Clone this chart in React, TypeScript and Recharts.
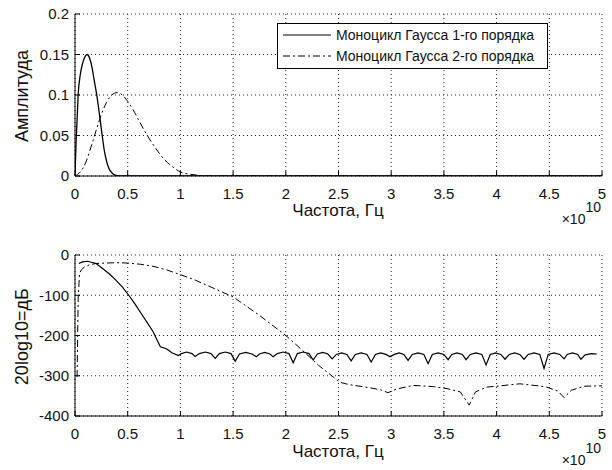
import { LineChart, Line, XAxis, YAxis, CartesianGrid, Legend } from 'recharts';

const FONT = '"Liberation Sans", Arial, sans-serif';
const INK = '#111';

const freqTicks = [0, 0.5, 1, 1.5, 2, 2.5, 3, 3.5, 4, 4.5, 5];
const ampTicks = [0, 0.05, 0.1, 0.15, 0.2];
const dbTicks = [-400, -300, -200, -100, 0];

const seriesNames = ['Моноцикл Гаусса 1-го порядка', 'Моноцикл Гаусса 2-го порядка'];

// amplitude spectrum, frequency in units of 1e10 Hz
const amp1Freq = [0, 0.01, 0.02, 0.03, 0.05, 0.07, 0.09, 0.115, 0.14, 0.16, 0.18, 0.2, 0.22, 0.24, 0.26, 0.28, 0.3, 0.32, 0.35, 0.38, 0.42, 5];
const amp1Val = [0, 0.04, 0.07, 0.1, 0.125, 0.138, 0.146, 0.15, 0.145, 0.135, 0.12, 0.105, 0.088, 0.068, 0.048, 0.03, 0.018, 0.01, 0.004, 0.001, 0, 0];

const amp2Freq = [0, 0.05, 0.1, 0.15, 0.2, 0.25, 0.3, 0.35, 0.4, 0.45, 0.5, 0.55, 0.6, 0.65, 0.7, 0.75, 0.8, 0.85, 0.9, 0.95, 1, 1.1, 1.2, 1.3, 5];
const amp2Val = [0, 0.005, 0.016, 0.035, 0.056, 0.076, 0.091, 0.1, 0.103, 0.1, 0.092, 0.082, 0.07, 0.058, 0.047, 0.037, 0.028, 0.02, 0.014, 0.009, 0.005, 0.002, 0.0005, 0, 0];

// spectrum in dB
const db1Freq = [
  0.036, 0.07, 0.12, 0.2, 0.265, 0.33, 0.39, 0.45, 0.51, 0.57, 0.63, 0.69, 0.74, 0.78, 0.81, 0.867, 0.92, 0.98,
  1.01, 1.06, 1.11, 1.14, 1.18, 1.235, 1.29, 1.33, 1.37, 1.425, 1.48, 1.52, 1.56, 1.62, 1.68, 1.72,
  1.75, 1.8, 1.85, 1.88, 1.92, 1.975, 2.03, 2.07, 2.11, 2.165, 2.22, 2.26, 2.3, 2.35, 2.4, 2.44,
  2.48, 2.53, 2.58, 2.62, 2.66, 2.715, 2.77, 2.81, 2.85, 2.9, 2.95, 2.99, 3.03, 3.075, 3.12, 3.16,
  3.2, 3.255, 3.31, 3.35, 3.39, 3.445, 3.5, 3.54, 3.575, 3.625, 3.675, 3.71, 3.75, 3.805, 3.86, 3.9,
  3.94, 3.99, 4.04, 4.08, 4.12, 4.17, 4.22, 4.26, 4.3, 4.355, 4.41, 4.45, 4.49, 4.545, 4.6, 4.64,
  4.67, 4.72, 4.77, 4.8, 4.84, 4.9, 4.95,
];
const db1Val = [
  -21, -17, -15.5, -21, -34, -48, -63, -80, -100, -122, -146, -170, -190, -212, -228, -233, -243, -250,
  -245, -241, -245, -252, -245, -241, -245, -257, -245, -241, -245, -264, -246, -242, -246, -253,
  -246, -242, -246, -253, -245, -241, -245, -268, -245, -241, -245, -261, -246, -242, -246, -258,
  -247, -243, -247, -263, -247, -243, -247, -266, -247, -243, -247, -253, -247, -243, -247, -262,
  -247, -243, -247, -270, -247, -243, -247, -260, -247, -243, -247, -260, -247, -243, -247, -273,
  -247, -243, -247, -259, -247, -243, -247, -259, -247, -243, -247, -282, -247, -243, -247, -258,
  -247, -243, -247, -259, -248, -245, -246,
];

const db2Freq = [
  0.02, 0.025, 0.03, 0.043, 0.06, 0.09, 0.14, 0.2, 0.39, 0.5, 0.62, 0.74, 0.87, 0.99, 1.12, 1.25, 1.5, 1.75,
  2, 2.15, 2.31, 2.45, 2.51, 2.6, 2.8, 2.9, 2.97, 3.05, 3.21, 3.4, 3.53, 3.655, 3.74, 3.8, 3.91, 4,
  4.22, 4.46, 4.58, 4.64, 4.71, 4.83, 5,
];
const db2Val = [
  -303, -200, -110, -46, -37, -30, -24, -21, -19, -20, -23, -28, -37, -48, -60, -75, -104, -150,
  -200, -235, -274, -303, -316, -322, -330, -335, -342, -333, -324, -327, -332, -340, -373, -340, -328, -326,
  -320, -327, -338, -354, -336, -326, -325,
];

const toPoints = (xs: number[], ys: number[]) => xs.map((f, i) => ({ f, v: ys[i] }));

const amp1 = toPoints(amp1Freq, amp1Val);
const amp2 = toPoints(amp2Freq, amp2Val);
const db1 = toPoints(db1Freq, db1Val);
const db2 = toPoints(db2Freq, db2Val);

const tickStyle = { fontSize: 15, fill: INK, fontFamily: FONT };

const XTitle = ({ base }: { base: number }) => (
  <g fontFamily={FONT} fill={INK}>
    <text x={338} y={base} textAnchor="middle" fontSize={17}>
      Частота, Гц
    </text>
    <text x={601} y={base + 8} textAnchor="end" fontSize={14}>
      ×10
      <tspan dy={-12}>10</tspan>
    </text>
  </g>
);

const YTitle = ({ text, cy }: { text: string; cy: number }) => (
  <text
    x={28}
    y={cy}
    transform={`rotate(-90, 28, ${cy})`}
    textAnchor="middle"
    fontSize={18}
    fontFamily={FONT}
    fill={INK}
  >
    {text}
  </text>
);

const LegendBox = () => (
  <svg width={271} height={46} style={{ display: 'block' }}>
    <rect x={0.5} y={0.5} width={270} height={45} fill="#fff" stroke="#000" />
    <line x1={6} x2={54} y1={12} y2={12} stroke="#000" strokeWidth={1.2} />
    <line x1={6} x2={54} y1={33} y2={33} stroke="#000" strokeDasharray="7 3 2 3" />
    <text x={59} y={17} fontSize={14} fontFamily={FONT} fill={INK}>{seriesNames[0]}</text>
    <text x={59} y={38} fontSize={14} fontFamily={FONT} fill={INK}>{seriesNames[1]}</text>
  </svg>
);

const App = () => {
  return (
    <div style={{ position: 'absolute', left: 0, top: 0, width: 612, height: 470, background: '#fff' }}>
      <LineChart width={612} height={240} margin={{ top: 14, right: 10, bottom: 0, left: 0 }}>
        <CartesianGrid stroke="#222" strokeDasharray="1 3" />
        <XAxis
          type="number"
          dataKey="f"
          domain={[0, 5]}
          ticks={freqTicks}
          interval={0}
          allowDataOverflow
          height={64}
          stroke="#000"
          tickSize={-5}
          tickMargin={17}
          tick={tickStyle}
          label={<XTitle base={216} />}
        />
        <XAxis xAxisId="top" orientation="top" type="number" domain={[0, 5]} ticks={freqTicks} height={0} stroke="#000" tickSize={-5} tick={false} allowDataOverflow />
        <YAxis
          type="number"
          domain={[0, 0.2]}
          ticks={ampTicks}
          interval={0}
          allowDataOverflow
          width={75}
          stroke="#000"
          tickSize={-5}
          tickMargin={11}
          tick={tickStyle}
          label={<YTitle text="Амплитуда" cy={96} />}
        />
        <YAxis yAxisId="right" orientation="right" type="number" domain={[0, 0.2]} ticks={ampTicks} width={0} stroke="#000" tickSize={-5} tick={false} allowDataOverflow />
        <Legend layout="vertical" align="center" verticalAlign="middle" wrapperStyle={{ left: 277, top: 23, width: 271 }} content={() => <LegendBox />} />
        <Line data={amp1} dataKey="v" name={seriesNames[0]} type="monotone" stroke="#000" strokeWidth={1.3} dot={false} isAnimationActive={false} />
        <Line data={amp2} dataKey="v" name={seriesNames[1]} type="monotone" stroke="#000" strokeWidth={1} strokeDasharray="7 3 2 3" dot={false} isAnimationActive={false} />
      </LineChart>
      <LineChart width={612} height={230} margin={{ top: 15, right: 10, bottom: 0, left: 0 }}>
        <CartesianGrid stroke="#222" strokeDasharray="1 3" />
        <XAxis
          type="number"
          dataKey="f"
          domain={[0, 5]}
          ticks={freqTicks}
          interval={0}
          allowDataOverflow
          height={54}
          stroke="#000"
          tickSize={-5}
          tickMargin={17}
          tick={tickStyle}
          label={<XTitle base={217} />}
        />
        <XAxis xAxisId="top" orientation="top" type="number" domain={[0, 5]} ticks={freqTicks} height={0} stroke="#000" tickSize={-5} tick={false} allowDataOverflow />
        <YAxis
          type="number"
          domain={[-400, 0]}
          ticks={dbTicks}
          interval={0}
          allowDataOverflow
          width={75}
          stroke="#000"
          tickSize={-5}
          tickMargin={11}
          tick={tickStyle}
          label={<YTitle text="20log10=дБ" cy={96.7} />}
        />
        <YAxis yAxisId="right" orientation="right" type="number" domain={[-400, 0]} ticks={dbTicks} width={0} stroke="#000" tickSize={-5} tick={false} allowDataOverflow />
        <Line data={db1} dataKey="v" name={seriesNames[0]} type="linear" stroke="#000" strokeWidth={1.2} dot={false} isAnimationActive={false} />
        <Line data={db2} dataKey="v" name={seriesNames[1]} type="linear" stroke="#000" strokeWidth={1} strokeDasharray="7 3 2 3" dot={false} isAnimationActive={false} />
      </LineChart>
    </div>
  );
};

export default App;
